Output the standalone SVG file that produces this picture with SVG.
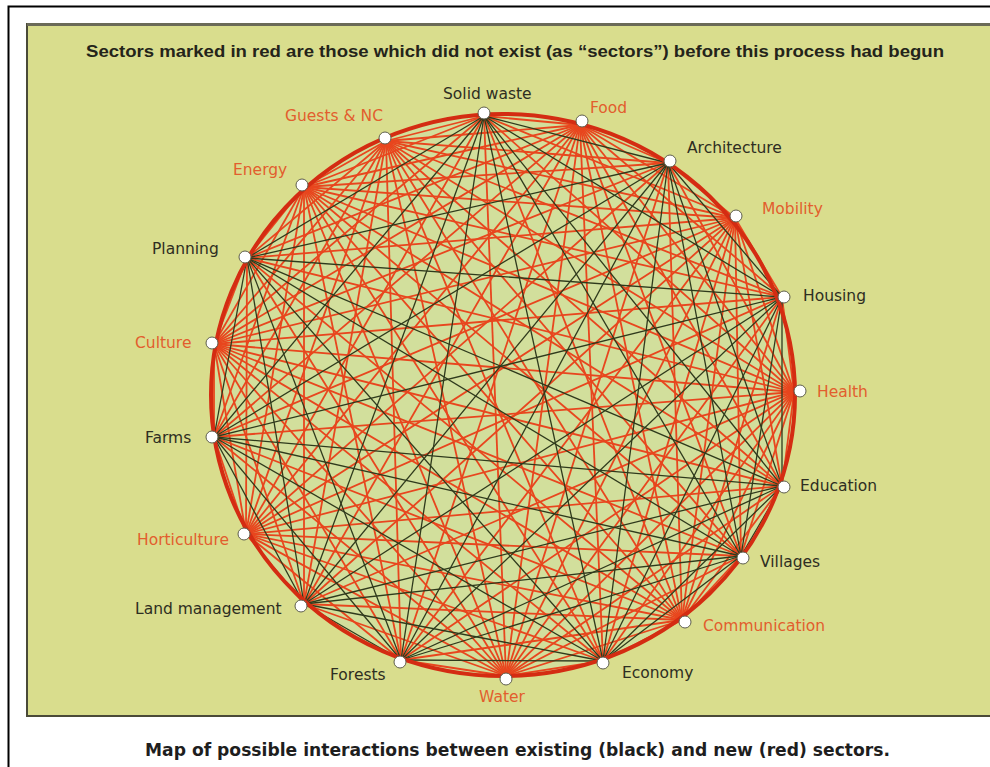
<svg xmlns="http://www.w3.org/2000/svg" width="990" height="767" viewBox="0 0 990 767">
<defs>
<style>
.k{stroke:#2f3a1c;stroke-width:1.3;fill:none}
.r{stroke:#e8461e;stroke-width:1.8;fill:none}
.dot{fill:#ffffff;stroke:#5e5e4e;stroke-width:1}
.lb{font-family:"DejaVu Sans",Verdana,sans-serif;font-size:15.5px}
.lk{fill:#2e2e22}
.lr{fill:#e25e2e}
</style>
</defs>
<rect x="0" y="0" width="990" height="767" fill="#ffffff"/>
<path d="M8.5 767V6.5H990" fill="none" stroke="#000000" stroke-width="2"/>
<rect x="27" y="24" width="990" height="692" fill="#d9dd8d" stroke="#4a4a38" stroke-width="2"/>
<line x1="27" y1="24.5" x2="990" y2="24.5" stroke="#6a6a58" stroke-width="3"/>
<text x="86" y="57" textLength="858" lengthAdjust="spacingAndGlyphs" font-family="'Liberation Sans',Arial,sans-serif" font-weight="bold" font-size="17" fill="#24241a">Sectors marked in red are those which did not exist (as “sectors”) before this process had begun</text>
<text x="145" y="756" textLength="745" lengthAdjust="spacingAndGlyphs" font-family="'DejaVu Sans',Verdana,sans-serif" font-weight="bold" font-size="17" fill="#1e1e1e">Map of possible interactions between existing (black) and new (red) sectors.</text>
<ellipse cx="503" cy="395" rx="292" ry="281" fill="#d2df9c"/>
<g id="connectors">
<path class="r" d="M484 116L580 125"/>
<path class="r" d="M484 116L735 218"/>
<path class="r" d="M484 116L794 392"/>
<path class="r" d="M484 116L682 620"/>
<path class="r" d="M484 116L506 676"/>
<path class="r" d="M484 116L246 534"/>
<path class="r" d="M484 116L214 344"/>
<path class="r" d="M484 116L304 187"/>
<path class="r" d="M484 116L386 141"/>
<path class="r" d="M580 125L668 163"/>
<path class="r" d="M580 125L735 218"/>
<path class="r" d="M580 125L782 297"/>
<path class="r" d="M580 125L794 392"/>
<path class="r" d="M580 125L782 486"/>
<path class="r" d="M580 125L741 556"/>
<path class="r" d="M580 125L682 620"/>
<path class="r" d="M580 125L603 661"/>
<path class="r" d="M580 125L506 676"/>
<path class="r" d="M580 125L401 660"/>
<path class="r" d="M580 125L304 604"/>
<path class="r" d="M580 125L246 534"/>
<path class="r" d="M580 125L214 437"/>
<path class="r" d="M580 125L214 344"/>
<path class="r" d="M580 125L247 258"/>
<path class="r" d="M580 125L304 187"/>
<path class="r" d="M580 125L386 141"/>
<path class="r" d="M668 163L735 218"/>
<path class="r" d="M668 163L794 392"/>
<path class="r" d="M668 163L682 620"/>
<path class="r" d="M668 163L506 676"/>
<path class="r" d="M668 163L246 534"/>
<path class="r" d="M668 163L214 344"/>
<path class="r" d="M668 163L304 187"/>
<path class="r" d="M668 163L386 141"/>
<path class="r" d="M735 218L782 297"/>
<path class="r" d="M735 218L794 392"/>
<path class="r" d="M735 218L782 486"/>
<path class="r" d="M735 218L741 556"/>
<path class="r" d="M735 218L682 620"/>
<path class="r" d="M735 218L603 661"/>
<path class="r" d="M735 218L506 676"/>
<path class="r" d="M735 218L401 660"/>
<path class="r" d="M735 218L304 604"/>
<path class="r" d="M735 218L246 534"/>
<path class="r" d="M735 218L214 437"/>
<path class="r" d="M735 218L214 344"/>
<path class="r" d="M735 218L247 258"/>
<path class="r" d="M735 218L304 187"/>
<path class="r" d="M735 218L386 141"/>
<path class="r" d="M782 297L794 392"/>
<path class="r" d="M782 297L682 620"/>
<path class="r" d="M782 297L506 676"/>
<path class="r" d="M782 297L246 534"/>
<path class="r" d="M782 297L214 344"/>
<path class="r" d="M782 297L304 187"/>
<path class="r" d="M782 297L386 141"/>
<path class="r" d="M794 392L782 486"/>
<path class="r" d="M794 392L741 556"/>
<path class="r" d="M794 392L682 620"/>
<path class="r" d="M794 392L603 661"/>
<path class="r" d="M794 392L506 676"/>
<path class="r" d="M794 392L401 660"/>
<path class="r" d="M794 392L304 604"/>
<path class="r" d="M794 392L246 534"/>
<path class="r" d="M794 392L214 437"/>
<path class="r" d="M794 392L214 344"/>
<path class="r" d="M794 392L247 258"/>
<path class="r" d="M794 392L304 187"/>
<path class="r" d="M794 392L386 141"/>
<path class="r" d="M782 486L682 620"/>
<path class="r" d="M782 486L506 676"/>
<path class="r" d="M782 486L246 534"/>
<path class="r" d="M782 486L214 344"/>
<path class="r" d="M782 486L304 187"/>
<path class="r" d="M782 486L386 141"/>
<path class="r" d="M741 556L682 620"/>
<path class="r" d="M741 556L506 676"/>
<path class="r" d="M741 556L246 534"/>
<path class="r" d="M741 556L214 344"/>
<path class="r" d="M741 556L304 187"/>
<path class="r" d="M741 556L386 141"/>
<path class="r" d="M682 620L603 661"/>
<path class="r" d="M682 620L506 676"/>
<path class="r" d="M682 620L401 660"/>
<path class="r" d="M682 620L304 604"/>
<path class="r" d="M682 620L246 534"/>
<path class="r" d="M682 620L214 437"/>
<path class="r" d="M682 620L214 344"/>
<path class="r" d="M682 620L247 258"/>
<path class="r" d="M682 620L304 187"/>
<path class="r" d="M682 620L386 141"/>
<path class="r" d="M603 661L506 676"/>
<path class="r" d="M603 661L246 534"/>
<path class="r" d="M603 661L214 344"/>
<path class="r" d="M603 661L304 187"/>
<path class="r" d="M603 661L386 141"/>
<path class="r" d="M506 676L401 660"/>
<path class="r" d="M506 676L304 604"/>
<path class="r" d="M506 676L246 534"/>
<path class="r" d="M506 676L214 437"/>
<path class="r" d="M506 676L214 344"/>
<path class="r" d="M506 676L247 258"/>
<path class="r" d="M506 676L304 187"/>
<path class="r" d="M506 676L386 141"/>
<path class="r" d="M401 660L246 534"/>
<path class="r" d="M401 660L214 344"/>
<path class="r" d="M401 660L304 187"/>
<path class="r" d="M401 660L386 141"/>
<path class="r" d="M304 604L246 534"/>
<path class="r" d="M304 604L214 344"/>
<path class="r" d="M304 604L304 187"/>
<path class="r" d="M304 604L386 141"/>
<path class="r" d="M246 534L214 437"/>
<path class="r" d="M246 534L214 344"/>
<path class="r" d="M246 534L247 258"/>
<path class="r" d="M246 534L304 187"/>
<path class="r" d="M246 534L386 141"/>
<path class="r" d="M214 437L214 344"/>
<path class="r" d="M214 437L304 187"/>
<path class="r" d="M214 437L386 141"/>
<path class="r" d="M214 344L247 258"/>
<path class="r" d="M214 344L304 187"/>
<path class="r" d="M214 344L386 141"/>
<path class="r" d="M247 258L304 187"/>
<path class="r" d="M247 258L386 141"/>
<path class="r" d="M304 187L386 141"/>
<path class="k" d="M484 116L668 163"/>
<path class="k" d="M484 116L782 297"/>
<path class="k" d="M484 116L782 486"/>
<path class="k" d="M484 116L741 556"/>
<path class="k" d="M484 116L603 661"/>
<path class="k" d="M484 116L401 660"/>
<path class="k" d="M484 116L304 604"/>
<path class="k" d="M484 116L214 437"/>
<path class="k" d="M484 116L247 258"/>
<path class="k" d="M668 163L782 297"/>
<path class="k" d="M668 163L782 486"/>
<path class="k" d="M668 163L741 556"/>
<path class="k" d="M668 163L603 661"/>
<path class="k" d="M668 163L401 660"/>
<path class="k" d="M668 163L304 604"/>
<path class="k" d="M668 163L214 437"/>
<path class="k" d="M668 163L247 258"/>
<path class="k" d="M782 297L782 486"/>
<path class="k" d="M782 297L741 556"/>
<path class="k" d="M782 297L603 661"/>
<path class="k" d="M782 297L401 660"/>
<path class="k" d="M782 297L304 604"/>
<path class="k" d="M782 297L214 437"/>
<path class="k" d="M782 297L247 258"/>
<path class="k" d="M782 486L741 556"/>
<path class="k" d="M782 486L603 661"/>
<path class="k" d="M782 486L401 660"/>
<path class="k" d="M782 486L304 604"/>
<path class="k" d="M782 486L214 437"/>
<path class="k" d="M782 486L247 258"/>
<path class="k" d="M741 556L603 661"/>
<path class="k" d="M741 556L401 660"/>
<path class="k" d="M741 556L304 604"/>
<path class="k" d="M741 556L214 437"/>
<path class="k" d="M741 556L247 258"/>
<path class="k" d="M603 661L401 660"/>
<path class="k" d="M603 661L304 604"/>
<path class="k" d="M603 661L214 437"/>
<path class="k" d="M603 661L247 258"/>
<path class="k" d="M401 660L304 604"/>
<path class="k" d="M401 660L214 437"/>
<path class="k" d="M401 660L247 258"/>
<path class="k" d="M304 604L214 437"/>
<path class="k" d="M304 604L247 258"/>
<path class="k" d="M214 437L247 258"/>
</g>
<ellipse cx="503" cy="395" rx="292" ry="281" fill="none" stroke="#d42c12" stroke-width="4"/>
<g id="n-solid-waste"><circle class="dot" cx="484" cy="113" r="6"/><text class="lb lk" x="443" y="99">Solid waste</text></g>
<g id="n-food"><circle class="dot" cx="582" cy="121" r="6"/><text class="lb lr" x="590" y="113">Food</text></g>
<g id="n-architecture"><circle class="dot" cx="670" cy="161" r="6"/><text class="lb lk" x="687" y="153">Architecture</text></g>
<g id="n-mobility"><circle class="dot" cx="736" cy="216" r="6"/><text class="lb lr" x="762" y="214">Mobility</text></g>
<g id="n-housing"><circle class="dot" cx="784" cy="297" r="6"/><text class="lb lk" x="803" y="301">Housing</text></g>
<g id="n-health"><circle class="dot" cx="800" cy="391" r="6"/><text class="lb lr" x="817" y="397">Health</text></g>
<g id="n-education"><circle class="dot" cx="784" cy="487" r="6"/><text class="lb lk" x="800" y="491">Education</text></g>
<g id="n-villages"><circle class="dot" cx="743" cy="558" r="6"/><text class="lb lk" x="760" y="567">Villages</text></g>
<g id="n-communication"><circle class="dot" cx="685" cy="622" r="6"/><text class="lb lr" x="703" y="631">Communication</text></g>
<g id="n-economy"><circle class="dot" cx="603" cy="663" r="6"/><text class="lb lk" x="622" y="678">Economy</text></g>
<g id="n-water"><circle class="dot" cx="506" cy="679" r="6"/><text class="lb lr" x="502" y="702" text-anchor="middle">Water</text></g>
<g id="n-forests"><circle class="dot" cx="400" cy="662" r="6"/><text class="lb lk" x="330" y="680">Forests</text></g>
<g id="n-land-management"><circle class="dot" cx="301" cy="606" r="6"/><text class="lb lk" x="135" y="614">Land management</text></g>
<g id="n-horticulture"><circle class="dot" cx="244" cy="534" r="6"/><text class="lb lr" x="137" y="545">Horticulture</text></g>
<g id="n-farms"><circle class="dot" cx="212" cy="437" r="6"/><text class="lb lk" x="145" y="443">Farms</text></g>
<g id="n-culture"><circle class="dot" cx="212" cy="343" r="6"/><text class="lb lr" x="135" y="348">Culture</text></g>
<g id="n-planning"><circle class="dot" cx="245" cy="257" r="6"/><text class="lb lk" x="152" y="254">Planning</text></g>
<g id="n-energy"><circle class="dot" cx="302" cy="185" r="6"/><text class="lb lr" x="233" y="175">Energy</text></g>
<g id="n-guests-nc"><circle class="dot" cx="385" cy="138" r="6"/><text class="lb lr" x="285" y="121">Guests &amp; NC</text></g>
</svg>
